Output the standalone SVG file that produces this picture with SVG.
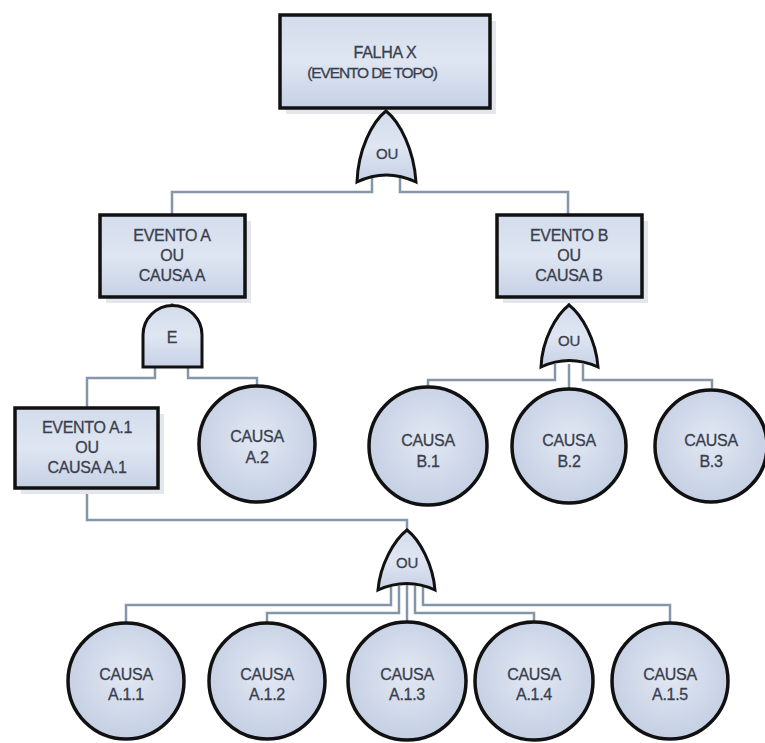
<svg xmlns="http://www.w3.org/2000/svg" width="765" height="743" viewBox="0 0 765 743">
<defs>
<linearGradient id="gBox" x1="0" y1="0" x2="0" y2="1">
<stop offset="0" stop-color="#d3dcec"/>
<stop offset="0.5" stop-color="#dfe6f2"/>
<stop offset="1" stop-color="#c6d1e5"/>
</linearGradient>
<radialGradient id="gCirc" cx="0.5" cy="0.45" r="0.6">
<stop offset="0" stop-color="#e2e8f3"/>
<stop offset="1" stop-color="#c2cde2"/>
</radialGradient>
<style>
.box{fill:url(#gBox);stroke:#111;stroke-width:3.5}
.shadow{fill:#e3e6ec}
.circ{fill:url(#gCirc);stroke:#111;stroke-width:3.5}
.gate{fill:url(#gBox);stroke:#111;stroke-width:3}
.lbl{font-family:"Liberation Sans",Arial,sans-serif;font-size:16px;fill:#3a3f4d;stroke:#3a3f4d;stroke-width:0.3;text-anchor:middle;letter-spacing:-0.3px}
.tight{letter-spacing:-1.1px;font-size:15.5px}
.con{fill:none;stroke:#8596aa;stroke-width:2.5}
</style>
</defs>
<rect width="765" height="743" fill="#ffffff"/>

<g id="connectors">
<path class="con" d="M385,108 V112"/>
<path class="con" d="M372,178 V192 H172 V215"/>
<path class="con" d="M400,178 V192 H568 V215"/>
<path class="con" d="M172,297 V306"/>
<path class="con" d="M155,366 V378 H87 V408"/>
<path class="con" d="M188,366 V378 H257 V386"/>
<path class="con" d="M569,297 V306"/>
<path class="con" d="M555,364 V380 H428 V388"/>
<path class="con" d="M569,364 V388"/>
<path class="con" d="M583,364 V380 H712 V388"/>
<path class="con" d="M87,488 V520 H407 V531"/>
<path class="con" d="M391,587 V605 H126 V623"/>
<path class="con" d="M399,586 V613 H267 V623"/>
<path class="con" d="M407,585 V623"/>
<path class="con" d="M415,586 V613 H534 V623"/>
<path class="con" d="M423,587 V605 H670 V623"/>
</g>

<g id="top">
<rect class="shadow" x="286" y="21" width="210" height="93"/>
<rect class="box" x="280" y="15" width="210" height="93"/>
<text class="lbl" x="385" y="58">FALHA X</text>
<text class="lbl tight" x="372" y="78">(EVENTO DE TOPO)</text>
</g>

<g id="gate-or-top">
<path class="gate" d="M386,111 C372,122 358,150 357,182 Q386,168 416,182 C414,150 400,122 386,111 Z"/>
<text class="lbl" x="387" y="159" style="font-size:15px">OU</text>
</g>

<g id="evento-a">
<rect class="shadow" x="106" y="221" width="145" height="82"/>
<rect class="box" x="100" y="215" width="145" height="82"/>
<text class="lbl" x="172" y="241">EVENTO A</text>
<text class="lbl" x="172" y="261">OU</text>
<text class="lbl" x="172" y="281">CAUSA A</text>
</g>

<g id="gate-and">
<path class="gate" d="M143,367 V335 A29.5,29.5 0 0 1 202,335 V367 Z"/>
<text class="lbl" x="172" y="343">E</text>
</g>

<g id="evento-b">
<rect class="shadow" x="503" y="221" width="145" height="82"/>
<rect class="box" x="497" y="215" width="145" height="82"/>
<text class="lbl" x="569" y="241">EVENTO B</text>
<text class="lbl" x="569" y="261">OU</text>
<text class="lbl" x="569" y="281">CAUSA B</text>
</g>

<g id="gate-or-b">
<path class="gate" d="M569,305 C556,315 542,340 541,367 Q569,354 598,367 C596,340 582,315 569,305 Z"/>
<text class="lbl" x="569" y="346" style="font-size:15px">OU</text>
</g>

<g id="evento-a1">
<rect class="shadow" x="21" y="414" width="143" height="80"/>
<rect class="box" x="15" y="408" width="143" height="80"/>
<text class="lbl" x="87" y="433">EVENTO A.1</text>
<text class="lbl" x="87" y="453">OU</text>
<text class="lbl" x="87" y="473">CAUSA A.1</text>
</g>

<g id="causa-a2">
<circle class="circ" cx="257" cy="444" r="58"/>
<text class="lbl" x="257" y="442">CAUSA</text>
<text class="lbl" x="257" y="463">A.2</text>
</g>

<g id="causa-b1">
<circle class="circ" cx="428" cy="446" r="59"/>
<text class="lbl" x="428" y="446">CAUSA</text>
<text class="lbl" x="428" y="467">B.1</text>
</g>
<g id="causa-b2">
<circle class="circ" cx="569" cy="446" r="57"/>
<text class="lbl" x="569" y="446">CAUSA</text>
<text class="lbl" x="569" y="467">B.2</text>
</g>
<g id="causa-b3">
<circle class="circ" cx="711" cy="446" r="56"/>
<text class="lbl" x="711" y="446">CAUSA</text>
<text class="lbl" x="711" y="467">B.3</text>
</g>

<g id="gate-or-a1">
<path class="gate" d="M407,530 C394,540 380,565 378,590 Q407,577 435,590 C433,565 420,540 407,530 Z"/>
<text class="lbl" x="407" y="568" style="font-size:15px">OU</text>
</g>

<g id="causa-a11">
<circle class="circ" cx="126" cy="681" r="58"/>
<text class="lbl" x="126" y="680">CAUSA</text>
<text class="lbl" x="126" y="700">A.1.1</text>
</g>
<g id="causa-a12">
<circle class="circ" cx="267" cy="681" r="58"/>
<text class="lbl" x="267" y="680">CAUSA</text>
<text class="lbl" x="267" y="700">A.1.2</text>
</g>
<g id="causa-a13">
<circle class="circ" cx="407" cy="681" r="59"/>
<text class="lbl" x="407" y="680">CAUSA</text>
<text class="lbl" x="407" y="700">A.1.3</text>
</g>
<g id="causa-a14">
<circle class="circ" cx="534" cy="681" r="59"/>
<text class="lbl" x="534" y="680">CAUSA</text>
<text class="lbl" x="534" y="700">A.1.4</text>
</g>
<g id="causa-a15">
<circle class="circ" cx="670" cy="681" r="58"/>
<text class="lbl" x="670" y="680">CAUSA</text>
<text class="lbl" x="670" y="700">A.1.5</text>
</g>
</svg>
